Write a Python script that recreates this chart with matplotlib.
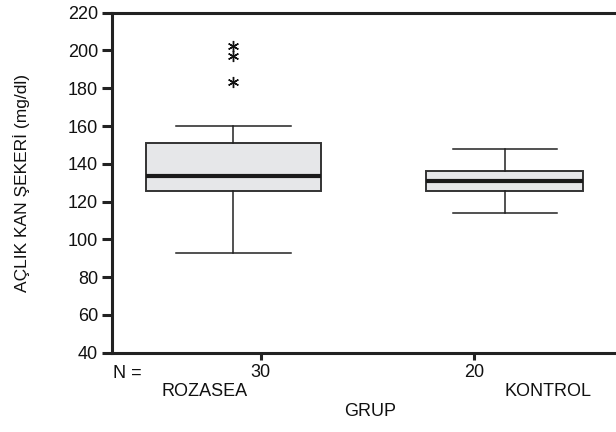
import matplotlib
matplotlib.use("Agg")
import matplotlib.pyplot as plt
from matplotlib.transforms import blended_transform_factory

plt.rcParams['font.family'] = ['Liberation Sans', 'DejaVu Sans']

groups = ["ROZASEA", "KONTROL"]
n_counts = ["30", "20"]
whislo = [93, 114]
q1 = [125.8, 125.6]
med = [133.5, 130.7]
q3 = [151, 136.3]
whishi = [160, 147.7]
outliers = [[202.6, 197.3, 183.2], []]
yticks = [40, 60, 80, 100, 120, 140, 160, 180, 200, 220]

FS = 13

fig = plt.figure(figsize=(6.16, 4.32), dpi=100)
ax = fig.add_axes([112/616, 1 - 352.7/432, 1 - 112/616 + 0.01, 340/432])

stats = []
for i, g in enumerate(groups):
    stats.append(dict(label=g, whislo=whislo[i], q1=q1[i], med=med[i], q3=q3[i],
                      whishi=whishi[i], fliers=outliers[i]))

positions = [1, 2]
ax.bxp(stats, positions=positions, widths=[0.642, 0.578], capwidths=[0.425, 0.384],
       patch_artist=True, manage_ticks=False,
       boxprops=dict(facecolor='#e6e7e9', edgecolor='#333333', linewidth=1.4),
       medianprops=dict(color='#1a1a1a', linewidth=3.0),
       whiskerprops=dict(color='#222222', linewidth=1.1),
       capprops=dict(color='#222222', linewidth=1.1),
       flierprops=dict(marker=(6, 2, 0), markersize=8, markeredgecolor='#111111',
                       markeredgewidth=1.0, linestyle='none'))

ax.set_xlim(0.5522, 2.433)
ax.set_ylim(40, 220)
ax.set_yticks(yticks)
ax.tick_params(axis='y', direction='out', length=7, width=2.2, color='#222222',
               labelsize=FS, pad=3, labelcolor='#111111')
ax.set_xticks([1.1007, 1.888])
ax.set_xticklabels(n_counts)
ax.tick_params(axis='x', direction='out', length=5, width=2.2, color='#222222',
               labelsize=FS, pad=3, labelcolor='#111111')
for s in ['left', 'bottom', 'top']:
    ax.spines[s].set_linewidth(2.2)
    ax.spines[s].set_color('#222222')
ax.spines['right'].set_visible(False)

tr = blended_transform_factory(ax.transData, fig.transFigure)
ax.text(0.5522 + 15/268, 1 - 373/432, "N =", transform=tr, ha='center', va='center', fontsize=FS, color='#111111')
ax.text(0.892, 1 - 392/432, groups[0], transform=tr, ha='center', va='center', fontsize=FS, color='#111111')
ax.text(2.16, 1 - 392/432, groups[1], transform=tr, ha='center', va='center', fontsize=FS, color='#111111')
fig.text(370/616, 1 - 412/432, "GRUP", ha='center', va='center', fontsize=FS, color='#111111')
fig.text(22/616, 1 - 183/432, "AÇLIK KAN ŞEKERİ (mg/dl)", rotation=90, ha='center', va='center', fontsize=FS - 0.5, color='#111111')

fig.savefig("out.png", dpi=100)
